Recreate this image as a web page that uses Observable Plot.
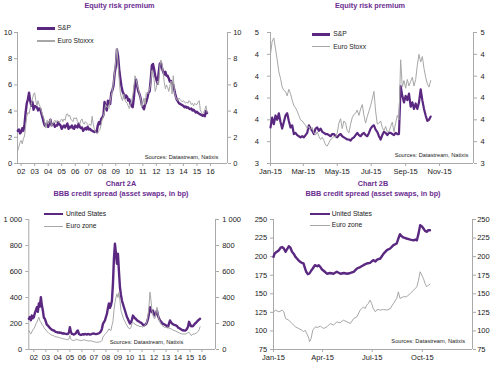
<!DOCTYPE html>
<html><head><meta charset="utf-8">
<script src="https://cdn.jsdelivr.net/npm/d3@7"></script>
<script src="https://cdn.jsdelivr.net/npm/@observablehq/plot@0.6"></script>
<style>
body{margin:0;background:#fff;}
#root{position:relative;width:500px;height:366px;overflow:hidden;font-family:"Liberation Sans",Arial,sans-serif;}
.abs{position:absolute;white-space:nowrap;line-height:1;}
.title{font-weight:bold;color:#6b2d90;font-size:7.3px;transform:translate(-50%,-50%);}
.leg{font-size:6.7px;color:#1a1a1a;transform:translateY(-50%);}
.src{font-size:5.7px;color:#1a1a1a;transform:translate(-100%,-50%);}
</style></head><body><div id="root"></div>
<script>
// ---------- Chart 1A: Equity risk premium, monthly from Oct 2001 ----------
const erpStart = 2001.75;
const erpSP = [2.5,2.6,2.3,2.4,2.7,2.5,3.0,3.9,4.6,4.9,5.4,4.8,
4.4,4.7,4.1,4.4,4.3,4.3,4.05,4.2,4.15,3.8,3.5,3.15,
2.9,3.0,3.05,2.8,3.1,3.35,2.9,3.0,3.05,2.8,2.9,2.9,
3.15,3.0,2.9,2.65,2.8,2.9,2.75,2.9,3.05,2.65,2.8,2.75,
2.9,2.7,2.65,2.9,2.8,2.75,3.05,2.8,2.7,2.75,2.5,2.6,
2.7,2.6,2.8,2.6,2.65,2.55,2.5,2.45,2.4,2.45,2.4,2.9,
3.15,3.0,3.4,3.5,3.7,4.7,4.3,4.05,4.8,4.6,4.55,5.4,
5.6,5.95,6.9,7.4,8.7,8.2,7.2,6.5,5.9,5.5,5.3,5.0,
5.2,5.1,4.8,4.9,4.55,4.4,4.3,5.0,6.0,6.4,5.9,5.5,
5.3,5.0,4.5,4.3,4.15,4.5,4.7,5.0,5.4,5.5,6.4,7.5,
7.6,7.2,6.7,6.4,6.1,6.9,7.6,7.7,7.3,7.0,6.8,7.0,
6.7,6.7,6.5,6.25,6.3,6.1,6.0,5.6,5.2,4.9,4.75,4.6,
4.55,4.5,4.45,4.4,4.3,4.35,4.25,4.3,4.2,4.15,4.2,4.05,
4.1,4.0,3.9,3.95,3.85,3.8,3.75,3.7,3.65,3.7,3.6,4.0,
3.85];
const erpEuro = [1.0,1.3,1.6,1.75,1.5,1.9,2.1,2.9,3.6,3.9,3.8,4.2,
4.5,4.9,5.3,5.4,4.8,4.4,4.8,4.5,4.3,4.0,3.7,3.5,
3.1,2.7,3.3,3.0,3.2,3.4,2.8,3.0,3.2,3.3,3.1,3.3,
3.2,3.1,3.3,3.4,3.2,3.4,3.3,3.7,3.8,3.6,3.7,3.4,
3.3,3.2,3.5,3.4,3.5,3.2,3.1,3.0,3.3,3.4,3.1,3.0,
3.2,3.1,3.0,2.9,3.0,2.9,3.6,3.0,2.6,2.4,2.3,2.3,
2.5,2.6,3.0,3.4,3.6,4.0,4.5,4.3,4.3,4.2,4.8,5.2,
5.6,6.2,7.0,7.9,8.8,7.6,6.4,5.4,5.0,4.8,5.3,4.9,
4.7,4.6,4.4,4.2,4.5,4.8,5.2,5.8,6.7,6.4,6.0,5.7,
5.3,5.0,4.3,4.6,5.0,4.5,5.4,5.3,5.4,5.7,6.1,7.1,
6.8,6.4,5.5,5.8,6.3,6.0,7.4,7.9,7.6,7.0,6.2,5.7,
6.0,5.8,5.5,5.9,6.3,5.3,6.7,5.5,5.1,4.9,4.8,5.0,
4.9,4.8,4.7,4.8,4.7,4.6,4.7,4.6,4.8,4.7,4.5,4.6,
4.4,4.6,4.5,4.5,4.7,4.8,4.1,3.9,3.8,3.9,4.1,4.4,
3.9];
const erpYearTicks = [2002,2003,2004,2005,2006,2007,2008,2009,2010,2011,2012,2013,2014,2015,2016];
const erpYearLabels = ["02","03","04","05","06","07","08","09","10","11","12","13","14","15","16"];
const erpYTicks = [0,2,4,6,8,10];

// ---------- Chart 1B: Equity risk premium 2015, every 3 days ----------
const erp15Step = 3;
const erp15SP = [3.73,3.82,3.76,3.84,3.80,3.86,3.78,3.72,3.78,3.84,3.86,3.79,3.73,3.75,3.67,3.68,3.66,3.65,3.64,3.65,
3.64,3.66,3.68,3.75,3.72,3.70,3.67,3.72,3.73,3.70,3.72,3.69,3.68,3.67,3.67,3.66,3.65,3.67,3.67,3.65,
3.64,3.66,3.67,3.65,3.64,3.63,3.62,3.62,3.61,3.63,3.64,3.66,3.68,3.66,3.65,3.67,3.68,3.66,3.65,3.68,
3.72,3.74,3.75,3.71,3.69,3.65,3.62,3.66,3.69,3.68,3.66,3.68,3.68,3.67,3.66,3.68,3.67,3.67,4.11,4.02,
3.96,4.02,3.98,4.04,3.92,3.96,3.90,3.95,3.90,3.96,4.08,3.98,3.90,3.84,3.79,3.80,3.83];
const erp15Euro = [4.40,4.52,4.55,4.45,4.35,4.24,4.18,4.10,4.07,4.06,4.02,4.08,4.04,3.98,3.93,3.91,3.88,3.84,3.80,3.79,
3.77,3.75,3.72,3.74,3.71,3.73,3.68,3.66,3.69,3.65,3.62,3.64,3.61,3.57,3.56,3.59,3.62,3.63,3.65,3.64,
3.68,3.77,3.81,3.72,3.79,3.77,3.70,3.68,3.76,3.82,3.85,3.86,3.89,3.84,3.90,3.94,3.84,3.77,3.83,3.88,
3.93,3.99,4.06,3.88,3.76,3.77,3.79,3.73,3.70,3.74,3.69,3.69,3.74,3.78,3.69,3.77,3.84,3.80,4.35,4.10,
4.16,4.09,4.17,4.11,4.15,4.19,4.11,4.17,4.30,4.40,4.33,4.38,4.27,4.19,4.13,4.10,4.16];
const monthTicks1B = [0,2,4,6,8,10];
const monthLabels1B = ["Jan-15","Mar-15","May-15","Jul-15","Sep-15","Nov-15"];
const erp15YTicks = [3.4,3.6,3.8,4.0,4.2,4.4,4.6];

// ---------- Chart 2A: BBB credit spread, monthly from Aug 2001 ----------
const bbbStart = 2001 + 7/12;
const bbbUS = [236,250,225,261,240,249,280,300,325,290,354,330,
402,340,300,245,236,215,190,185,175,165,159,152,
148,146,140,135,133,130,132,128,130,125,123,125,
122,120,118,120,130,172,135,120,118,115,120,125,
140,146,120,115,112,115,118,115,120,118,115,120,
118,115,117,120,122,123,120,118,120,122,125,130,
140,159,197,210,223,250,274,320,354,320,340,377,
505,700,813,740,660,736,600,479,420,377,350,325,
300,275,250,235,215,200,210,230,261,250,240,235,
225,220,215,210,205,200,190,185,190,195,210,235,
274,325,300,287,300,270,261,280,300,260,240,223,
215,205,197,195,190,185,180,172,200,223,210,200,
195,190,188,185,180,170,165,160,155,150,148,146,
145,150,160,175,213,195,180,178,180,190,200,205,
215,223,230,236];
const bbbEZ = [146,130,120,135,150,159,175,197,210,230,249,220,
210,195,185,170,159,150,140,133,125,120,115,110,
108,105,100,98,96,95,93,90,88,85,84,82,
80,78,76,75,80,108,78,72,70,69,72,76,
80,74,72,70,68,70,72,75,73,70,68,66,
65,68,66,64,62,60,58,56,55,58,56,60,
62,70,95,108,115,125,133,145,159,150,146,185,
215,300,360,400,428,400,441,377,300,274,249,230,
215,197,185,170,165,159,170,197,210,200,195,190,
185,185,180,175,180,172,175,178,185,197,220,260,
330,441,380,300,261,240,240,280,325,270,235,210,
195,185,180,175,170,172,168,175,165,160,159,155,
150,146,145,140,135,133,128,125,122,120,118,120,
118,120,125,130,133,120,108,112,120,118,122,125,
130,140,150,175];
const bbbYTicks = [0,200,400,600,800,1000];

// ---------- Chart 2B: BBB credit spread 2015 (day of year) ----------
const bbb15USDays = [0,2,5.5,10,13,16,19,22,25,28,31,34,37,40,43,46,49,52,55,58,60,63,66,69,72,76,80,83,86,89,92,98,104,110,116,123,129,135,141,147,153,159,165,171,177,183,187,190,196,202,208,214,220,226,229,232,235,238,244,251,257,260,263,266,269,272,275,278,281,284,287];
const bbb15US = [199.7,204,206,208.7,212,212.9,211,206.5,210,214,212,206.5,204,200,197.5,195,193,191.7,190.8,184,179.6,176.4,177.3,181,184,188.5,187,188.5,186,182.7,181,177,178,177,179.6,177,178,177,178,179.6,184,186,188.5,190.8,191.7,195.3,193.5,196,197.5,204,208.7,211,215.5,217.7,224.4,230.3,227.6,225.8,224.4,223,222,223,222,231,242.4,241,237.9,234.7,233.4,235.6,235.6];
const bbb15EZDays = [0,4,10,16,19,22,28,34,40,46,52,55,58,61.6,65,66.5,69,72.6,77,80,86,92,98,104,110,116.5,122.6,128.7,135,141,147,153,159,165,168,171,174,177,180,183.5,187,190,196,202,208,214,220,226,229,232,238,244,251,257,263,266,269,272,275,278,281,284,287];
const bbb15EZ = [125.7,127.9,125.7,127.9,125.7,116.7,114.5,110,105.5,103.3,101,98.8,101,96.5,89.8,85.3,89.8,101,105.5,104.6,106.4,103.3,105.5,110,107.8,112.2,110.9,114.5,112.2,110,116.7,119,128,132.4,130,134.7,137,141.4,137,130,125.7,128.9,128,128.9,128,130,137,143.7,152.6,143.7,146,146,150.4,154.9,159.4,168.3,179.6,175,170.6,163.8,159.4,161.6,162.9];
const monthTicks2B = [0,3,6,9];
const monthLabels2B = ["Jan-15","Apr-15","Jul-15","Oct-15"];
const bbb15YTicks = [75,100,125,150,175,200,225,250];

const seriesNames1 = ["S&P","Euro Stoxxx"];
const seriesNames1B = ["S&P","Euro Stoxx"];
const seriesNames2 = ["United States","Euro zone"];
const sourceText = "Sources: Datastream, Natixis";

// ---------- drawing ----------
const root = document.getElementById("root");
const AX = "#a9a9a9", TXT = "#1a1a1a", PURPLE = "#5a2781", GRAY = "#a7a7a7";
const FONT = '"Liberation Sans", Arial, sans-serif';
const utc = d => new Date(Date.UTC(2015, 0, 1 + d));
const monthDate = m => new Date(Date.UTC(2015, m, 1));
const spaceFmt = d3.formatLocale({decimal: ".", thousands: " ", grouping: [3], currency: ["", ""]}).format(",d");

function panel(c) {
  const p = Plot.plot({
    width: c.w, height: c.h,
    marginTop: c.mt, marginRight: c.mr, marginBottom: c.mb, marginLeft: c.ml,
    x: {type: c.xType, domain: c.xDomain, label: null},
    y: {domain: c.yDomain, label: null},
    style: {fontFamily: FONT, fontSize: "7.5px", background: "transparent", overflow: "visible"},
    marks: [
      Plot.ruleX([c.xDomain[0], c.xDomain[1]], {stroke: AX, strokeWidth: 1}),
      Plot.ruleY([c.yDomain[0]], {stroke: AX, strokeWidth: 1}),
      Plot.axisY({anchor: "left", ticks: c.yTicks, tickFormat: c.yFmt, tickSize: 3, tickPadding: c.lpad, stroke: AX, fill: TXT, label: null}),
      Plot.axisY({anchor: "right", ticks: c.yTicks, tickFormat: c.yFmt, tickSize: 3, tickPadding: c.rpad, stroke: AX, fill: TXT, label: null}),
      Plot.axisX({ticks: c.xTicks, tickFormat: c.xFmt, tickSize: 3, tickPadding: 2, stroke: AX, fill: TXT, label: null}),
      Plot.line(c.purple, {x: "x", y: "y", stroke: PURPLE, strokeWidth: c.pw, strokeLinejoin: "round"}),
      Plot.line(c.gray, {x: "x", y: "y", stroke: GRAY, strokeWidth: 1, strokeLinejoin: "round"})
    ]
  });
  p.style.position = "absolute";
  p.style.left = c.left + "px";
  p.style.top = c.top + "px";
  root.appendChild(p);
}

function text(cls, s, x, y) {
  const d = document.createElement("div");
  d.className = "abs " + cls;
  d.textContent = s;
  d.style.left = x + "px";
  d.style.top = y + "px";
  root.appendChild(d);
}
function legend(names, x0, x1, tx, y0, y1) {
  [[names[0], PURPLE, 2.6, y0], [names[1], GRAY, 1.1, y1]].forEach(([n, col, lw, y]) => {
    const s = document.createElement("div");
    s.className = "abs";
    s.style.cssText += `left:${x0}px;top:${y - lw / 2}px;width:${x1 - x0}px;height:${lw}px;background:${col};`;
    root.appendChild(s);
    text("leg", n, tx, y);
  });
}

// Chart 1A
panel({left: 0, top: 0, w: 250, h: 180, mt: 32, mr: 23, mb: 17, ml: 17,
  xType: "linear", xDomain: [2001.73, 2017.26], yDomain: [0, 10],
  yTicks: erpYTicks, yFmt: d => String(d), lpad: 2.3, rpad: 2.7,
  xTicks: erpYearTicks, xFmt: d => erpYearLabels[erpYearTicks.indexOf(d)],
  purple: erpSP.map((v, i) => ({x: erpStart + i / 12, y: v})),
  gray: erpEuro.map((v, i) => ({x: erpStart + i / 12, y: v})), pw: 2.4});

// Chart 1B
const ticks1B = monthTicks1B.map(monthDate);
panel({left: 250, top: 0, w: 250, h: 180, mt: 32, mr: 27, mb: 17, ml: 20,
  xType: "utc", xDomain: [monthDate(0), monthDate(12)], yDomain: [3.4, 4.6],
  yTicks: erp15YTicks, yFmt: d3.format(".0f"), lpad: 8.5, rpad: 4,
  xTicks: ticks1B, xFmt: d => monthLabels1B[ticks1B.findIndex(t => +t === +d)],
  purple: erp15SP.map((v, i) => ({x: utc(i * erp15Step), y: v})),
  gray: erp15Euro.map((v, i) => ({x: utc(i * erp15Step), y: v})), pw: 2.2});

// Chart 2A
panel({left: 0, top: 183, w: 250, h: 183, mt: 36, mr: 35, mb: 17, ml: 28.3,
  xType: "linear", xDomain: [2001.58, 2017.12], yDomain: [0, 1000],
  yTicks: bbbYTicks, yFmt: spaceFmt, lpad: 3.6, rpad: 3.7,
  xTicks: erpYearTicks, xFmt: d => erpYearLabels[erpYearTicks.indexOf(d)],
  purple: bbbUS.map((v, i) => ({x: bbbStart + i / 12, y: v})),
  gray: bbbEZ.map((v, i) => ({x: bbbStart + i / 12, y: v})), pw: 2.4});

// Chart 2B
const ticks2B = monthTicks2B.map(monthDate);
panel({left: 250, top: 183, w: 250, h: 183, mt: 36, mr: 28, mb: 17, ml: 23,
  xType: "utc", xDomain: [monthDate(0), monthDate(12)], yDomain: [75, 250],
  yTicks: bbb15YTicks, yFmt: d => String(d), lpad: 3.3, rpad: 1.7,
  xTicks: ticks2B, xFmt: d => monthLabels2B[ticks2B.findIndex(t => +t === +d)],
  purple: bbb15US.map((v, i) => ({x: utc(bbb15USDays[i]), y: v})),
  gray: bbb15EZ.map((v, i) => ({x: utc(bbb15EZDays[i]), y: v})), pw: 2.4});

// titles
text("title", "Chart 1A", 119.5, -4.5);
text("title", "Equity risk premium", 119.5, 6);
text("title", "Chart 1B", 370, -4.5);
text("title", "Equity risk premium", 370, 6);
text("title", "Chart 2A", 121, 183.5);
text("title", "BBB credit spread (asset swaps, in bp)", 121, 193.7);
text("title", "Chart 2B", 373, 183.5);
text("title", "BBB credit spread (asset swaps, in bp)", 373, 193.7);

// legends
legend(seriesNames1, 36.7, 55, 57.5, 28.3, 41);
legend(seriesNames1B, 311.7, 330, 333.3, 34.3, 46.7);
legend(seriesNames2, 44.3, 63.3, 66, 214, 226.3);
legend(seriesNames2, 310, 330, 331.7, 214, 225.3);

// sources
text("src", sourceText, 218.3, 158.3);
text("src", sourceText, 468.3, 156);
text("src", sourceText, 183.3, 343);
text("src", sourceText, 465, 342);
</script></body></html>
